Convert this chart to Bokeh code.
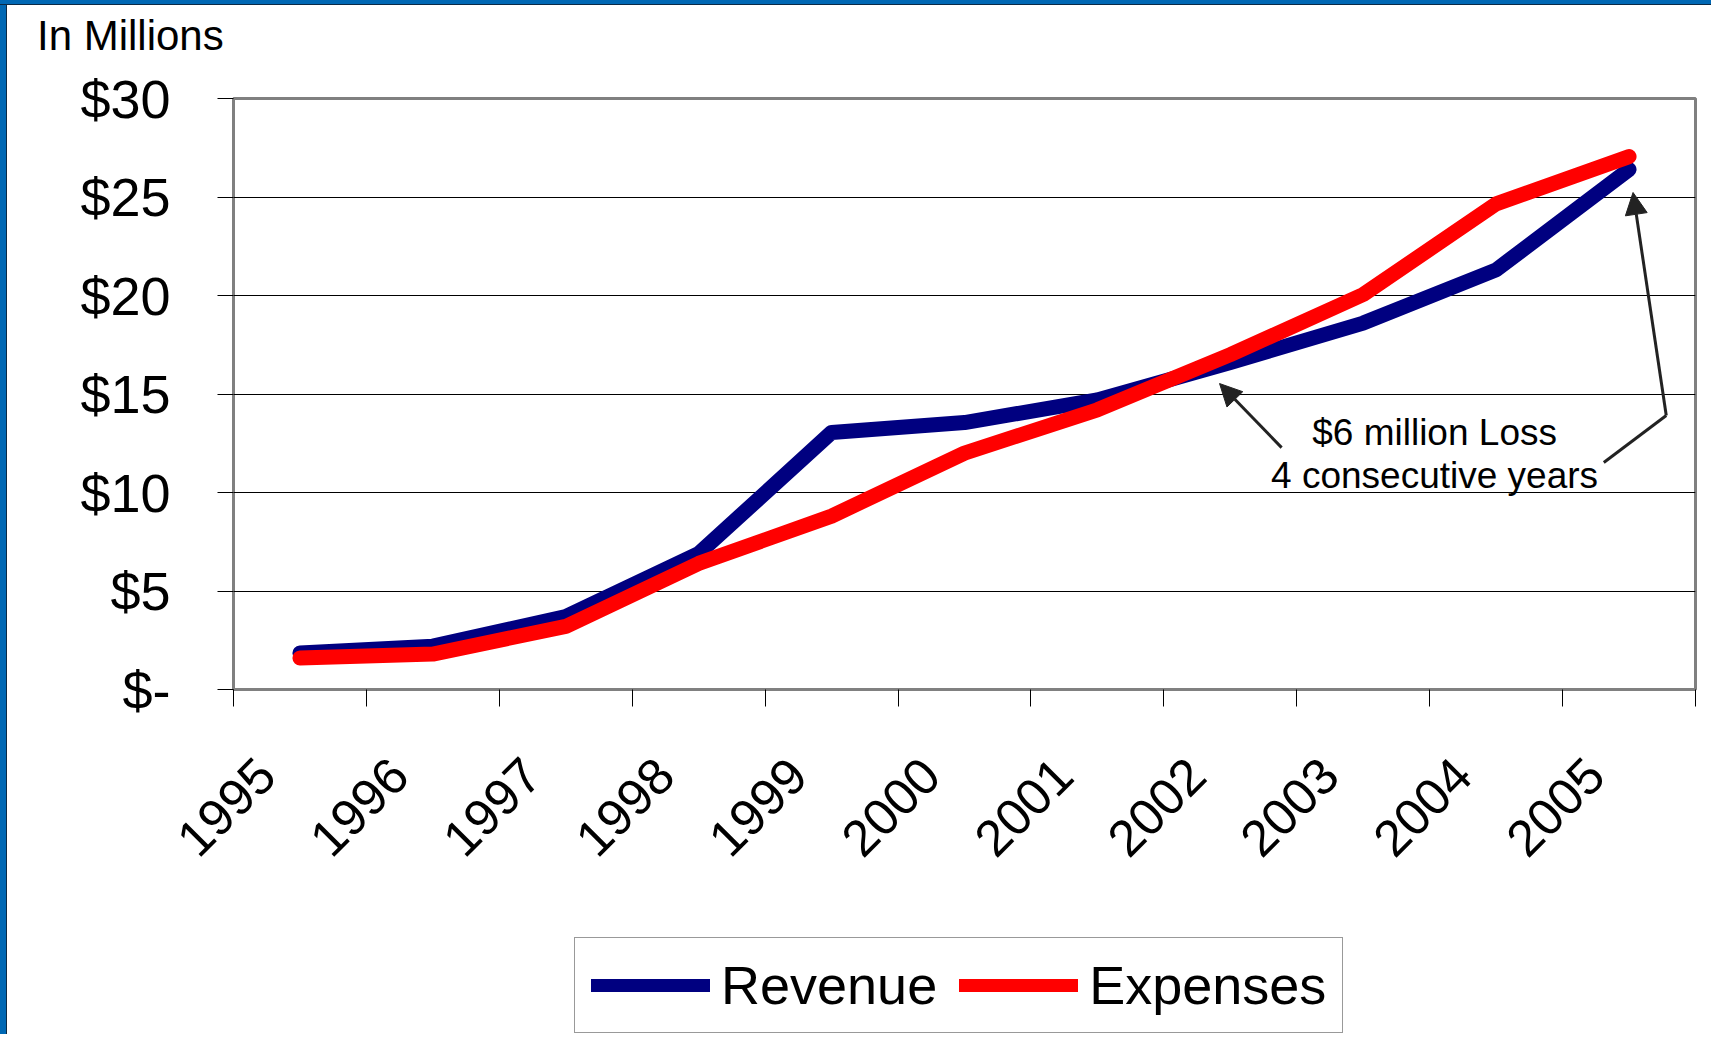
from math import pi
from bokeh.plotting import figure
from bokeh.layouts import column, row
from bokeh.models import (Range1d, FixedTicker, CustomJSTickFormatter, Label, Arrow,
                          NormalHead, Legend, LegendItem, Div)
from bokeh.embed import file_html
from bokeh.resources import INLINE

# ---------------- data ----------------
years = ["1995", "1996", "1997", "1998", "1999", "2000", "2001", "2002", "2003", "2004", "2005"]
revenue = [1.85, 2.2, 3.7, 6.9, 13.05, 13.55, 14.7, 16.6, 18.6, 21.3, 26.4]
expenses = [1.6, 1.8, 3.2, 6.4, 8.8, 12.0, 14.2, 17.0, 20.05, 24.65, 27.05]
y_ticks = [0, 5, 10, 15, 20, 25, 30]
y_tick_labels = ["$-", "$5", "$10", "$15", "$20", "$25", "$30"]
series_names = ["Revenue", "Expenses"]
series_colors = ["#000080", "#FF0000"]
unit_text = "In Millions"
note_line1 = "$6 million Loss"
note_line2 = "4 consecutive years"

FONT = "Liberation Sans"
BLUE = "#0068B4"
DARK = "#0b2a45"
W, H = 1711, 1034
STRIP_L = 7
TOP_H = 60
LEG_H = 134
MAIN_H = H - TOP_H - LEG_H

p = figure(width=W - STRIP_L, height=MAIN_H, output_backend="svg", toolbar_location=None,
           x_range=Range1d(0, len(years)), y_range=Range1d(y_ticks[0], y_ticks[-1]),
           min_border_left=226, min_border_right=16, min_border_top=38,
           min_border_bottom=MAIN_H - 38 - 591)
p.background_fill_color = "white"
p.border_fill_color = "white"
p.outline_line_color = "#808080"
p.outline_line_width = 3

# category centres (library linear scale maps these)
xs = [i + 0.5 for i in range(len(years))]

p.line(xs, revenue, line_width=15, line_color=series_colors[0], line_cap="round", line_join="round")
p.line(xs, expenses, line_width=15, line_color=series_colors[1], line_cap="round", line_join="round")

# ---------------- axes ----------------
label_shift = -0.255
xa = p.xaxis[0]
xa.ticker = FixedTicker(ticks=[i + 0.5 + label_shift for i in range(len(years))],
                        minor_ticks=list(range(len(years) + 1)))
xa.formatter = CustomJSTickFormatter(args=dict(labels=years),
                                     code="const k = Math.floor(tick); return (k >= 0 && k < labels.length) ? labels[k] : '';")
xa.major_tick_out = 0
xa.major_tick_in = 0
xa.minor_tick_out = 17
xa.minor_tick_in = 0
xa.minor_tick_line_color = "black"
xa.minor_tick_line_width = 1
xa.axis_line_color = None
xa.major_label_orientation = pi / 4
xa.major_label_standoff = 60
xa.major_label_text_font = FONT
xa.major_label_text_font_size = "51px"
xa.major_label_text_color = "black"

ya = p.yaxis[0]
ya.ticker = FixedTicker(ticks=y_ticks)
ya.major_label_overrides = {t: s for t, s in zip(y_ticks, y_tick_labels)}
ya.major_tick_out = 16
ya.major_tick_in = 0
ya.major_tick_line_color = "black"
ya.minor_tick_line_color = None
ya.axis_line_color = None
ya.major_label_standoff = 47
ya.major_label_text_font = FONT
ya.major_label_text_font_size = "54px"
ya.major_label_text_color = "black"

p.xgrid.visible = False
p.ygrid.grid_line_color = "black"
p.ygrid.grid_line_width = 1

# ---------------- annotations ----------------
p.add_layout(Label(x=9.037, y=13.05, text=note_line1, text_font=FONT, text_font_size="37px",
                   text_color="black", text_align="center", text_baseline="alphabetic"))
p.add_layout(Label(x=9.037, y=10.86, text=note_line2, text_font=FONT, text_font_size="37px",
                   text_color="black", text_align="center", text_baseline="alphabetic"))

ac = "#222222"
p.add_layout(Arrow(end=NormalHead(size=22, fill_color=ac, line_color=ac),
                   x_start=7.886, y_start=12.28, x_end=7.419, y_end=15.53,
                   line_width=3, line_color=ac))
p.add_layout(Arrow(end=None, x_start=10.31, y_start=11.52, x_end=10.78, y_end=13.91,
                   line_width=3, line_color=ac))
p.add_layout(Arrow(end=NormalHead(size=22, fill_color=ac, line_color=ac),
                   x_start=10.78, y_start=13.91, x_end=10.53, y_end=25.23,
                   line_width=3, line_color=ac))

# ---------------- legend strip (own small figure below the chart) ----------------
pl = figure(width=W - STRIP_L, height=LEG_H, output_backend="svg", toolbar_location=None,
            x_range=Range1d(100, 101), y_range=Range1d(100, 101), min_border=0,
            x_axis_location=None, y_axis_location=None)
pl.xgrid.visible = False
pl.ygrid.visible = False
pl.outline_line_color = None
pl.background_fill_color = "white"
pl.border_fill_color = "white"
items = []
for name, col, vals in zip(series_names, series_colors, [revenue, expenses]):
    r = pl.line(xs, vals, line_width=13, line_color=col, line_cap="round")  # out of view: legend swatch only
    items.append(LegendItem(label=name, renderers=[r]))
legend = Legend(items=items, orientation="horizontal", location=(341, 1))
legend.label_text_font = FONT
legend.label_text_font_size = "54px"
legend.label_text_color = "black"
legend.glyph_width = 119
legend.glyph_height = 40
legend.label_standoff = 11
legend.spacing = 22
legend.padding = 16
legend.margin = 0
legend.border_line_color = "#333333"
legend.border_line_width = 1.5
legend.background_fill_color = "white"
legend.background_fill_alpha = 1
pl.add_layout(legend)

# ---------------- slide frame + unit caption ----------------
top_bg = ("linear-gradient(to bottom, {b} 0px, {b} 4px, {d} 4px, {d} 5px, rgba(0,0,0,0) 5px), "
          "linear-gradient(to right, {b} 0px, {b} 6px, {d} 6px, {d} 7px, #ffffff 7px)").format(b=BLUE, d=DARK)
top_div = Div(text=('<div style="padding:12px 0 0 37px; margin:0; font-family:\'Liberation Sans\'; '
                    'font-size:42px; line-height:48px; color:#000; white-space:nowrap;">%s</div>' % unit_text),
              width=W, height=TOP_H, margin=0, styles={"background": top_bg})
left_div = Div(text="", width=STRIP_L, height=H - TOP_H, margin=0,
               styles={"background": "linear-gradient(to right, %s 0px, %s 6px, %s 6px, %s 7px)" % (BLUE, BLUE, DARK, DARK)})

layout = column(top_div, row(left_div, column(p, pl, spacing=0), spacing=0), spacing=0)

open("out.html", "w").write(file_html(layout, INLINE))
